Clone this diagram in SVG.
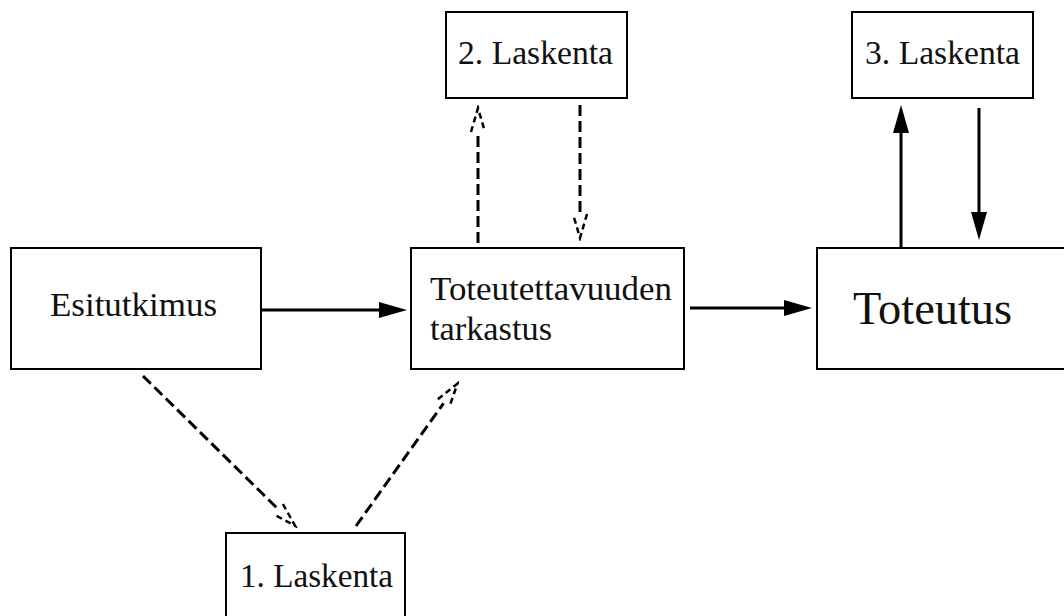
<svg xmlns="http://www.w3.org/2000/svg" width="1064" height="616" viewBox="0 0 1064 616">
<style>
.box{fill:#fff;stroke:#000;stroke-width:2}
.t{font-family:"Liberation Serif","Times New Roman",serif;font-size:34px;fill:#111}
.big{font-size:47px}
.solid{stroke:#000;stroke-width:3;fill:none}
.dash{stroke:#000;stroke-width:3;fill:none;stroke-dasharray:11 5}
</style>
<defs>
<marker id="ah" markerUnits="userSpaceOnUse" markerWidth="30" markerHeight="16" refX="0" refY="8" orient="auto">
<path d="M0,0 L28,8 L0,16 z" fill="#000"/>
</marker>
<marker id="ahd" markerUnits="userSpaceOnUse" markerWidth="28" markerHeight="18" refX="1" refY="9" orient="auto">
<path d="M1,2 L25,9 L1,16" fill="none" stroke="#000" stroke-width="2.5" stroke-dasharray="6 4"/>
</marker>
</defs>
<rect width="1064" height="616" fill="#fff"/>
<g id="connectors">
<line class="solid" x1="261" y1="310" x2="379" y2="310" marker-end="url(#ah)"/>
<line class="solid" x1="690" y1="308" x2="784" y2="308" marker-end="url(#ah)"/>
<line class="solid" x1="901" y1="248" x2="901" y2="133" marker-end="url(#ah)"/>
<line class="solid" x1="979" y1="108" x2="979" y2="212" marker-end="url(#ah)"/>
<line class="dash" x1="478" y1="243" x2="478" y2="132" marker-end="url(#ahd)"/>
<line class="dash" x1="580" y1="105" x2="580" y2="214" marker-end="url(#ahd)"/>
<line class="dash" x1="143" y1="376" x2="278" y2="509" marker-end="url(#ahd)"/>
<line class="dash" x1="356" y1="526" x2="443.5" y2="403.3" marker-end="url(#ahd)"/>
</g>
<g id="esitutkimus">
<rect class="box" x="11" y="248" width="250" height="121"/>
<text class="t" x="50" y="316" textLength="167" lengthAdjust="spacingAndGlyphs">Esitutkimus</text>
</g>
<g id="toteutettavuuden">
<rect class="box" x="411" y="248" width="273" height="121"/>
<text class="t" x="430" y="300" textLength="242" lengthAdjust="spacingAndGlyphs">Toteutettavuuden</text>
<text class="t" x="430" y="340" textLength="122" lengthAdjust="spacingAndGlyphs">tarkastus</text>
</g>
<g id="toteutus">
<rect class="box" x="817" y="248" width="260" height="121"/>
<text class="t big" x="853" y="324" textLength="159" lengthAdjust="spacingAndGlyphs">Toteutus</text>
</g>
<g id="laskenta1">
<rect class="box" x="226" y="533" width="179" height="100"/>
<text class="t" x="240" y="587" textLength="153" lengthAdjust="spacingAndGlyphs">1. Laskenta</text>
</g>
<g id="laskenta2">
<rect class="box" x="446" y="12" width="181" height="86"/>
<text class="t" x="458" y="64" textLength="155" lengthAdjust="spacingAndGlyphs">2. Laskenta</text>
</g>
<g id="laskenta3">
<rect class="box" x="852" y="12" width="181" height="86"/>
<text class="t" x="865" y="64" textLength="155" lengthAdjust="spacingAndGlyphs">3. Laskenta</text>
</g>
</svg>
